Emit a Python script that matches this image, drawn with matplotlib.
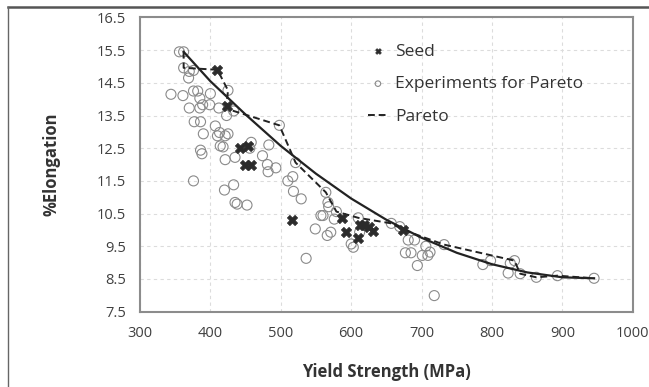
import matplotlib
matplotlib.use("Agg")
import matplotlib.pyplot as plt
from matplotlib.lines import Line2D

plt.rcParams["font.family"] = ["Open Sans", "DejaVu Sans"]

# Experiments for Pareto (yield strength MPa, %elongation)
exp_x = [356, 362, 362, 370, 376, 369, 344, 361, 376, 382, 385, 400, 425,
         370, 385, 389, 399, 412, 423, 433, 377, 386, 407, 390, 413, 410,
         425, 421, 414, 418, 386, 388, 458, 456, 483, 421, 435, 474, 498,
         521, 376, 420, 433, 435, 438, 452, 481, 482, 493, 510, 517, 518,
         529, 549, 536, 557, 564, 567, 568, 560, 576, 579, 566, 571, 600,
         603, 610, 612, 657, 669, 681, 690, 677, 685, 694, 701, 709, 712,
         706, 732, 718, 787, 798, 823, 826, 832, 840, 863, 893, 945]
exp_y = [15.45, 15.45, 14.96, 14.85, 14.88, 14.65, 14.15, 14.11, 14.25,
         14.25, 14.03, 14.17, 14.27, 13.73, 13.73, 13.83, 13.83, 13.73,
         13.5, 13.64, 13.31, 13.31, 13.18, 12.94, 12.98, 12.88, 12.94,
         12.88, 12.57, 12.54, 12.44, 12.33, 12.68, 12.5, 12.6, 12.15, 12.22,
         12.27, 13.2, 12.06, 11.5, 11.22, 11.38, 10.84, 10.79, 10.76, 12.0,
         11.78, 11.9, 11.5, 11.63, 11.18, 10.95, 10.03, 9.13, 10.44, 11.15,
         10.84, 10.71, 10.44, 10.33, 10.56, 9.83, 9.93, 9.57, 9.47, 10.37,
         9.93, 10.2, 10.1, 9.69, 9.69, 9.3, 9.3, 8.91, 9.22, 9.22, 9.32,
         9.5, 9.55, 7.99, 8.94, 9.06, 8.68, 8.98, 9.06, 8.66, 8.55, 8.6, 8.52]

# Seed designs
seed_x = [410, 423, 442, 453, 449, 457, 516, 587, 592, 610, 612, 618, 626, 631, 674]
seed_y = [14.9, 13.8, 12.5, 12.56, 12.0, 12.0, 10.3, 10.35, 9.95, 9.75, 10.16,
          10.16, 10.08, 9.98, 10.0]

# Pareto front (dashed)
pareto_x = [362, 362, 410, 425, 423, 433, 498, 521, 564, 579, 610, 657, 674,
            732, 832, 840, 863, 893, 945]
pareto_y = [15.45, 14.96, 14.9, 14.27, 13.8, 13.64, 13.2, 12.06, 11.15, 10.56,
            10.37, 10.2, 10.0, 9.55, 9.06, 8.66, 8.55, 8.6, 8.52]

# trend curve (solid)
trend_x = [362, 400, 450, 500, 550, 600, 650, 700, 750, 800, 850, 900, 945]
trend_y = [15.45, 14.55, 13.53, 12.57, 11.72, 10.96, 10.31, 9.76, 9.30, 8.95,
           8.70, 8.55, 8.52]

fig = plt.figure(figsize=(6.49, 3.87), dpi=100)
ax = fig.add_axes([0.2157, 0.1948, 0.975 - 0.2157, 0.9548 - 0.1948])

ax.scatter(exp_x, exp_y, s=52, facecolors="none", edgecolors="#8a8a8a",
           linewidths=0.8, label="Experiments for Pareto", zorder=2)
ax.plot(trend_x, trend_y, color="#222222", lw=1.6, zorder=3)
ax.plot(pareto_x, pareto_y, color="#222222", lw=1.4, ls=(0, (3.5, 2)),
        label="Pareto", zorder=3)
ax.scatter(seed_x, seed_y, s=55, marker="X", color="#2b2b2b",
           edgecolors="#2b2b2b", linewidths=0.5, label="Seed", zorder=4)

ax.set_xlim(300, 1000)
ax.set_ylim(7.5, 16.5)
ax.set_xticks(range(300, 1001, 100))
ax.set_yticks([7.5 + i for i in range(10)])
ax.set_yticklabels([f"{7.5 + i:.1f}" for i in range(10)])
ax.grid(True, ls=(0, (3, 3)), color="#dcdcdc", lw=0.8)
ax.set_axisbelow(True)
ax.tick_params(length=0, pad=10, labelsize=10.5, colors="#404040")
for s in ax.spines.values():
    s.set_color("#8c8c8c")
    s.set_linewidth(1.5)

ax.set_xlabel("Yield Strength (MPa)", fontsize=12, fontweight="bold",
              color="#333333", labelpad=16)
ax.set_ylabel("%Elongation", fontsize=12, fontweight="bold",
              color="#333333", labelpad=26)

h, l = ax.get_legend_handles_labels()
order = [l.index("Seed"), l.index("Experiments for Pareto"), l.index("Pareto")]
leg = ax.legend([h[i] for i in order], [l[i] for i in order],
                loc="upper left", bbox_to_anchor=(0.43, 0.965),
                frameon=False, fontsize=12.5, markerscale=0.55,
                handlelength=1.2, handletextpad=0.4, labelspacing=0.95)
for t in leg.get_texts():
    t.set_color("#333333")

# frame of the original image
fig.add_artist(Line2D([8 / 649, 1], [1 - 7 / 387, 1 - 7 / 387],
                      transform=fig.transFigure, color="#555555", lw=1.8))
fig.add_artist(Line2D([8 / 649, 8 / 649], [1 - 7 / 387, 0],
                      transform=fig.transFigure, color="#666666", lw=1.0))

fig.savefig("out.png", dpi=100)
